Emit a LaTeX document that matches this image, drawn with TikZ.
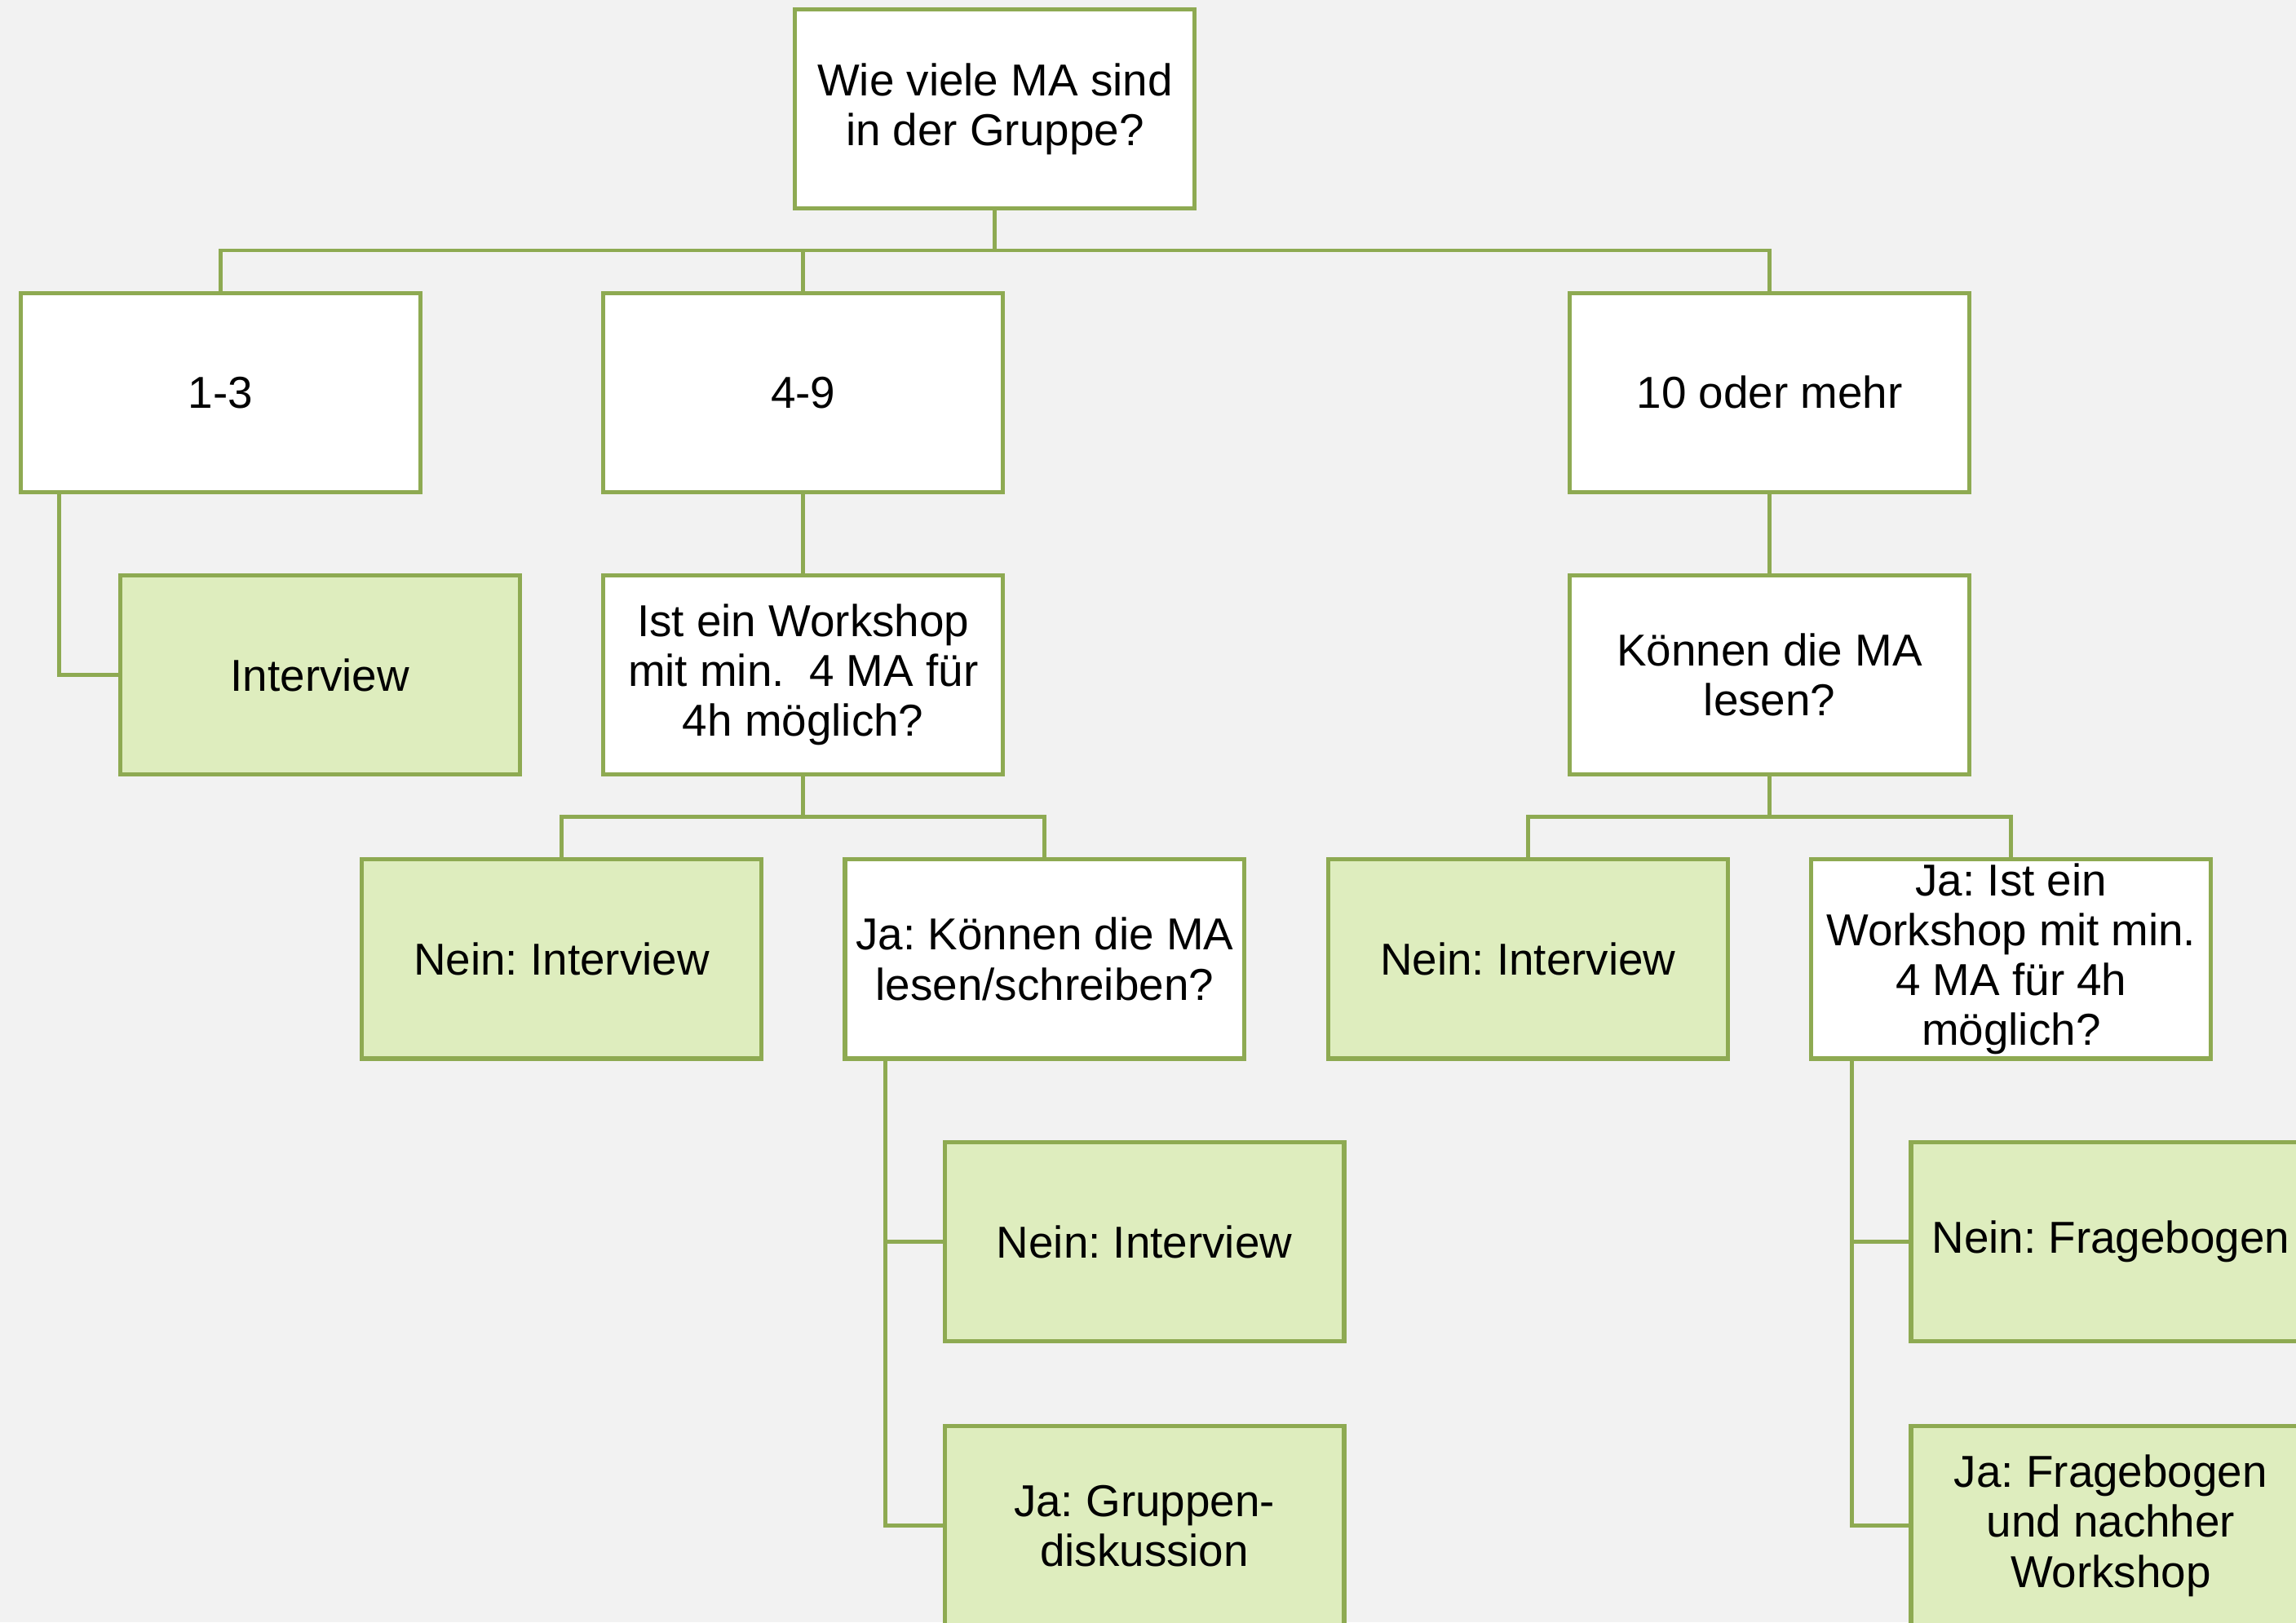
\documentclass[tikz,border=0pt]{standalone}
\usepackage{fontspec}
\setmainfont{Liberation Sans}
\frenchspacing
\usetikzlibrary{calc}
\definecolor{bg}{HTML}{F2F2F2}
\definecolor{edge}{HTML}{8EAA52}
\definecolor{leaf}{HTML}{DEEDBE}
\begin{document}
\begin{tikzpicture}[x=0.017953cm,y=-0.017953cm,
  box/.style={draw=edge,line width=1.45pt,fill=white,minimum width=4.901cm,minimum height=2.442cm,
    inner sep=0pt,align=center,font=\fontsize{15.6}{17.4}\selectfont},
  leafbox/.style={box,fill=leaf},
  conn/.style={draw=edge,line width=1.4pt}]
\fill[bg] (0,0) rectangle (1568,1108);
\useasboundingbox (0,0) rectangle (1568,1108);
\clip (0,0) rectangle (1568,1108);
% nodes
\node[box] (top) at (679.5,74.5) {Wie viele MA sind\\in der Gruppe?};
\node[box] (ra) at (150.5,268) {1-3};
\node[box] (rb) at (548.5,268) {4-9};
\node[box] (rc) at (1208.5,268) {10 oder mehr};
\node[leafbox] (inta) at (218.5,461) {Interview};
\node[box] (ws) at (548.5,461) {Ist ein Workshop\\mit min.~ 4 MA für\\4h möglich?};
\node[box] (kl) at (1208.5,461) {Können die MA\\lesen?};
\node[leafbox] (nia) at (383.5,655) {Nein: Interview};
\node[box] (jals) at (713.5,655) {Ja: Können die MA\\lesen/schreiben?};
\node[leafbox] (nib) at (1043.5,655) {Nein: Interview};
\node[box] (jaws) at (1373.5,655) {Ja: Ist ein\\Workshop mit min.\\4 MA für 4h\\möglich?};
\node[leafbox] (nic) at (781.5,848) {Nein: Interview};
\node[leafbox] (gd) at (781.5,1042) {Ja: Gruppen-\\diskussion};
\node[leafbox] (fb) at (1441.5,848) {Nein: Fragebogen};
\node[leafbox] (fbw) at (1441.5,1042) {Ja: Fragebogen\\und nachher\\Workshop};
% bus and trunk coordinates
\coordinate (b1) at (679.5,171);
\coordinate (b2) at (548.5,558);
\coordinate (b3) at (1208.5,558);
\coordinate (t0) at ($(ra.south west)+(28,0)$);
\coordinate (t1) at ($(jals.south west)+(29,0)$);
\coordinate (t2) at ($(jaws.south west)+(29,0)$);
% connectors
\draw[conn] (top.south) -- (b1);
\draw[conn] (ra.north) |- (b1) -| (rc.north);
\draw[conn] (rb.north) -- (rb.north |- b1);
\draw[conn] (t0) |- (inta.west);
\draw[conn] (rb.south) -- (ws.north);
\draw[conn] (rc.south) -- (kl.north);
\draw[conn] (ws.south) -- (b2);
\draw[conn] (nia.north) |- (b2) -| (jals.north);
\draw[conn] (kl.south) -- (b3);
\draw[conn] (nib.north) |- (b3) -| (jaws.north);
\draw[conn] (t1) |- (gd.west);
\draw[conn] (t1 |- nic.west) -- (nic.west);
\draw[conn] (t2) |- (fbw.west);
\draw[conn] (t2 |- fb.west) -- (fb.west);
\end{tikzpicture}
\end{document}
